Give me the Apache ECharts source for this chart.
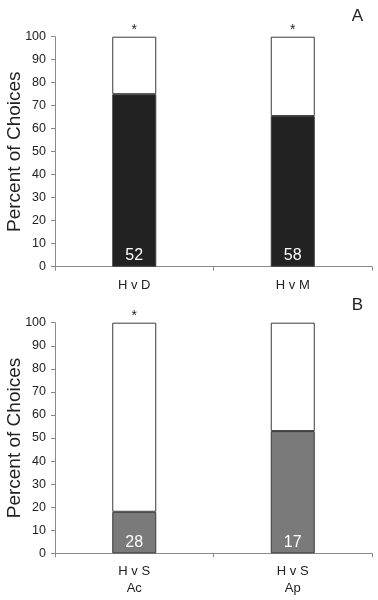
<!DOCTYPE html>
<html>
<head>
<meta charset="utf-8">
<script src="https://cdn.jsdelivr.net/npm/echarts@6/dist/echarts.min.js"></script>
<style>
html,body{margin:0;padding:0;background:#fff;}
#c{width:378px;height:600px;}
</style>
</head>
<body>
<div id="c"></div>
<script>
// Panel A
var categoriesA = ['H v D', 'H v M'];
var percentA = [75, 65.5];
var nA = [52, 58];
var sigA = ['*', '*'];
// Panel B
var categoriesB = ['H v S\nAc', 'H v S\nAp'];
var percentB = [18, 53];
var nB = [28, 17];
var sigB = ['*', ''];
// y ticks
var yMin = 0, yMax = 100, yStep = 10;

var FONT = 'Liberation Sans, Arial, sans-serif';
var chart = echarts.init(document.getElementById('c'), null, {renderer: 'canvas'});

function restOf(arr) { return arr.map(function (v) { return 100 - v; }); }

function xAxis(idx, cats) {
  return {
    type: 'category', gridIndex: idx, data: cats,
    axisLine: {lineStyle: {color: '#8a8a8a', width: 1}},
    axisTick: {show: true, alignWithLabel: false, length: 4, lineStyle: {color: '#8a8a8a'}},
    axisLabel: {color: '#222', fontFamily: FONT, fontSize: 13, margin: 10, lineHeight: 17}
  };
}
function yAxis(idx) {
  return {
    type: 'value', gridIndex: idx, min: yMin, max: yMax, interval: yStep,
    name: 'Percent of Choices', nameLocation: 'middle', nameGap: 31, nameMoveOverlap: false,
    nameTextStyle: {fontFamily: FONT, fontSize: 19, color: '#222'},
    splitLine: {show: false},
    axisLine: {show: true, lineStyle: {color: '#8a8a8a', width: 1}},
    axisTick: {show: true, length: 4, lineStyle: {color: '#8a8a8a'}},
    axisLabel: {color: '#222', fontFamily: FONT, fontSize: 12.5, margin: 9}
  };
}
function bars(idx, vals, ns, sigs, color) {
  return [
    {
      type: 'bar', xAxisIndex: idx, yAxisIndex: idx, stack: 's' + idx, barWidth: 44,
      data: vals,
      itemStyle: {color: color, borderColor: '#3a3a3a', borderWidth: 1},
      label: {show: true, position: 'insideBottom', distance: 3, color: '#fff', fontFamily: FONT, fontSize: 16,
        formatter: function (p) { return ns[p.dataIndex]; }}
    },
    {
      type: 'bar', xAxisIndex: idx, yAxisIndex: idx, stack: 's' + idx, barWidth: 44,
      data: restOf(vals),
      itemStyle: {color: '#fff', borderColor: '#3a3a3a', borderWidth: 1},
      label: {show: true, position: 'top', distance: 0, color: '#222', fontFamily: FONT, fontSize: 14,
        formatter: function (p) { return sigs[p.dataIndex]; }}
    }
  ];
}

chart.setOption({
  animation: false,
  backgroundColor: '#fff',
  title: [
    {text: 'A', right: 10, top: 3, textStyle: {fontFamily: FONT, fontSize: 17, fontWeight: 'normal', color: '#222'}},
    {text: 'B', right: 10, top: 292, textStyle: {fontFamily: FONT, fontSize: 17, fontWeight: 'normal', color: '#222'}}
  ],
  grid: [
    {left: 55, right: 6, top: 36.7, height: 230, containLabel: false, outerBoundsMode: 'none'},
    {left: 55, right: 6, top: 322.7, height: 230.6, containLabel: false, outerBoundsMode: 'none'}
  ],
  xAxis: [xAxis(0, categoriesA), xAxis(1, categoriesB)],
  yAxis: [yAxis(0), yAxis(1)],
  series: [].concat(
    bars(0, percentA, nA, sigA, '#222222'),
    bars(1, percentB, nB, sigB, '#7a7a7a')
  )
});
</script>
</body>
</html>
